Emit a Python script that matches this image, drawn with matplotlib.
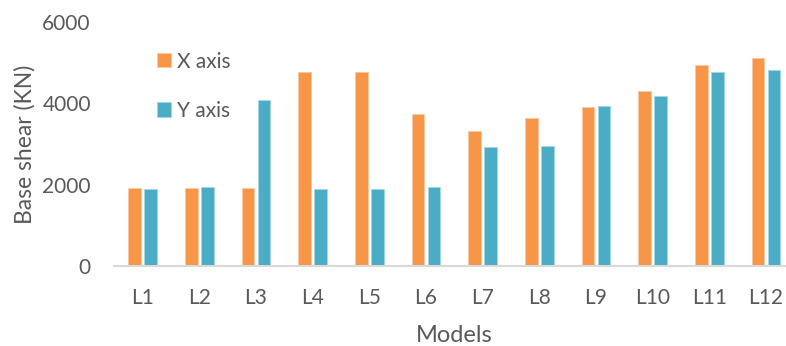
"""
Base shear per model, split by loading direction.
"""

import matplotlib.pyplot as plt
import numpy as np

models = ["L1", "L2", "L3", "L4", "L5", "L6", "L7", "L8", "L9", "L10", "L11", "L12"]
shear_x = [1910, 1920, 1920, 4765, 4772, 3747, 3321, 3633, 3904, 4305, 4937, 5125]
shear_y = [1894, 1951, 4084, 1894, 1894, 1943, 2927, 2952, 3936, 4189, 4780, 4830]

ORANGE = "#F79646"
BLUE = "#4BACC6"
TEXT = "#595959"


def main() -> None:
    plt.rcParams["font.family"] = ["Lato", "DejaVu Sans"]

    W, H = 786, 346
    fig = plt.figure(figsize=(W / 100, H / 100), dpi=100)
    left, right = 114.4, 794.3
    top, bottom = 22.2, 266.0
    ax = fig.add_axes([left / W, 1 - bottom / H, (right - left) / W, (bottom - top) / H])

    pos = np.arange(len(models))
    width = 0.224
    offset = 0.141
    ax.bar(pos - offset, shear_x, width, color=ORANGE, edgecolor="#FBC8A2",
           linewidth=0.6, label="X axis")
    ax.bar(pos + offset, shear_y, width, color=BLUE, edgecolor="#A5D6E3",
           linewidth=0.6, label="Y axis")

    ax.set_xlim(-0.5, len(models) - 0.5)
    ax.set_ylim(0, 6000)
    ax.set_yticks([0, 2000, 4000, 6000])
    ax.set_xticks(pos)
    ax.set_xticklabels(models)

    for side in ("top", "right", "left"):
        ax.spines[side].set_visible(False)
    ax.spines["bottom"].set_color("#D9D9D9")
    ax.spines["bottom"].set_linewidth(1.5)

    ax.tick_params(axis="both", length=0, labelsize=15, labelcolor=TEXT)
    ax.tick_params(axis="y", pad=17)
    ax.tick_params(axis="x", pad=16)

    ax.set_xlabel("Models", fontsize=17, color=TEXT, labelpad=12)
    ax.set_ylabel("Base shear (KN)", fontsize=16.5, color=TEXT, labelpad=5)

    ax.legend(loc="upper left", bbox_to_anchor=(142 / W, 1 - 37 / H),
              bbox_transform=fig.transFigure, frameon=False, fontsize=15,
              labelcolor=TEXT, handlelength=0.68, handleheight=0.68,
              handletextpad=0.3, labelspacing=1.4, borderpad=0.2)

    fig.savefig("out.png", dpi=100)


if __name__ == "__main__":
    main()
